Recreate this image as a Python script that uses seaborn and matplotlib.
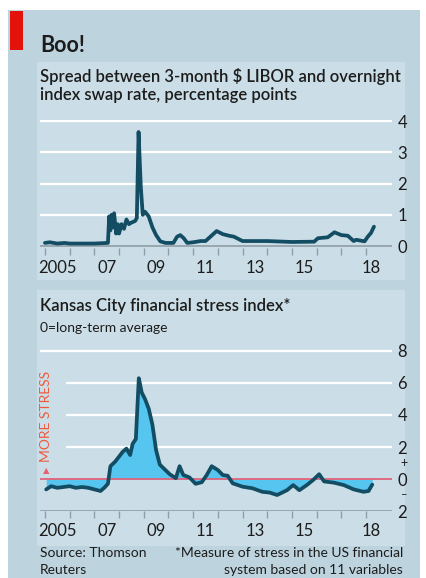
import matplotlib
matplotlib.use("Agg")
import matplotlib.pyplot as plt
from matplotlib.patches import Rectangle
import numpy as np
import pandas as pd
import seaborn as sns

# LIBOR-OIS spread, percentage points
libor_year = [2005.0, 2005.2, 2005.5, 2005.8, 2006.0, 2006.5, 2007.0, 2007.55,
              2007.6, 2007.65, 2007.7, 2007.75, 2007.8, 2007.88, 2007.95, 2008.0,
              2008.1, 2008.2, 2008.3, 2008.4, 2008.5, 2008.65, 2008.72, 2008.79,
              2008.88, 2008.96, 2009.05, 2009.2, 2009.35, 2009.5, 2009.67, 2009.88,
              2010.2, 2010.35, 2010.48, 2010.62, 2010.76, 2011.0, 2011.3, 2011.5,
              2011.7, 2011.95, 2012.2, 2012.45, 2012.65, 2013.0, 2014.0, 2015.0,
              2015.9, 2016.05, 2016.45, 2016.72, 2017.0, 2017.26, 2017.5, 2017.6,
              2017.94, 2018.07, 2018.2, 2018.32]
libor_spread = [0.1, 0.12, 0.08, 0.1, 0.08, 0.08, 0.08, 0.1,
                0.95, 0.5, 1.0, 0.6, 1.05, 0.4, 0.7, 0.4,
                0.7, 0.55, 0.85, 0.7, 0.75, 0.8, 0.9, 3.65,
                1.9, 1.0, 1.1, 0.95, 0.6, 0.35, 0.15, 0.1,
                0.1, 0.3, 0.35, 0.25, 0.1, 0.12, 0.16, 0.16,
                0.3, 0.48, 0.38, 0.33, 0.3, 0.16, 0.16, 0.13,
                0.14, 0.25, 0.28, 0.44, 0.35, 0.33, 0.16, 0.2,
                0.15, 0.3, 0.42, 0.62]

# Kansas City financial stress index
kc_year = [2005.05, 2005.25, 2005.5, 2005.75, 2006.0, 2006.25, 2006.5, 2006.75,
           2007.0, 2007.25, 2007.4, 2007.55, 2007.65, 2007.85, 2008.0, 2008.15,
           2008.3, 2008.45, 2008.55, 2008.68, 2008.8, 2008.92, 2009.05, 2009.2,
           2009.35, 2009.5, 2009.65, 2009.85, 2010.05, 2010.3, 2010.45, 2010.6,
           2010.85, 2011.1, 2011.35, 2011.55, 2011.75, 2012.0, 2012.2, 2012.4,
           2012.6, 2013.0, 2013.4, 2013.8, 2014.1, 2014.4, 2014.8, 2015.05,
           2015.3, 2015.6, 2015.86, 2016.1, 2016.3, 2016.7, 2017.1, 2017.5,
           2017.9, 2018.1, 2018.25]
kc_stress = [-0.65, -0.45, -0.55, -0.5, -0.45, -0.55, -0.5, -0.55,
             -0.65, -0.75, -0.55, -0.3, 0.8, 1.1, 1.4, 1.7,
             1.9, 1.5, 2.2, 2.5, 6.3, 5.4, 5.0, 4.4,
             3.4, 1.8, 0.9, 0.6, 0.3, 0.05, 0.8, 0.25,
             0.1, -0.3, -0.2, 0.25, 0.8, 0.56, 0.25, 0.2,
             -0.27, -0.48, -0.58, -0.8, -0.85, -1.0, -0.7, -0.38,
             -0.7, -0.38, -0.06, 0.3, -0.15, -0.23, -0.38, -0.65,
             -0.8, -0.75, -0.35]

year_ticks = list(range(2005, 2019))
year_label_pos = [2005.5, 2007.5, 2009.5, 2011.5, 2013.5, 2015.5, 2018.2]
year_labels = ["2005", "07", "09", "11", "13", "15", "18"]
top_yticks = [0, 1, 2, 3, 4]
bot_yticks = [-2, 0, 2, 4, 6, 8]

W, H = 427, 578
LINE = "#134d63"
FILL = "#56c5ef"
OUTER = "#bdd4df"
INNER = "#cbdee7"
AXIS = "#8f9ea6"
TEXT = "#1c1c1c"

sns.set_theme(style="white")
plt.rcParams["font.family"] = ["Lato", "DejaVu Sans"]

fig = plt.figure(figsize=(W / 100, H / 100), dpi=100)
fig.patch.set_facecolor("white")


def fx(px):
    return px / W


def fy(py):
    return 1 - py / H


def bg_rect(x0, y0, x1, y1, color, z=-10):
    fig.patches.append(Rectangle((fx(x0), fy(y1)), fx(x1) - fx(x0), fy(y0) - fy(y1),
                                 transform=fig.transFigure, facecolor=color,
                                 edgecolor="none", zorder=z))


# panel backgrounds
bg_rect(8, 10, 420, 578, OUTER)
bg_rect(37, 62, 405, 280, INNER, z=-9)
bg_rect(37, 290, 405, 546, INNER, z=-9)
bg_rect(10, 11, 23, 50, "#e3120b", z=-8)

XMIN, XMAX = 2004.8, 2019.05

# ---- top chart ----
ax1 = fig.add_axes([fx(40), fy(247.6), fx(352), fy(119.5) - fy(247.6)])
ax1.set_xlim(XMIN, XMAX)
ax1.set_ylim(-0.05, 4.05)
for v in top_yticks[1:]:
    ax1.axhline(v, color="white", lw=1.6, zorder=1)
ax1.axhline(0, color=AXIS, lw=1.2, zorder=2)
df1 = pd.DataFrame({"year": libor_year, "spread": libor_spread})
sns.lineplot(data=df1, x="year", y="spread", ax=ax1, color=LINE, lw=2.7, zorder=3,
             solid_joinstyle="round")

# ---- bottom chart ----
ax2 = fig.add_axes([fx(40), fy(511), fx(352), fy(349.4) - fy(511)])
ax2.set_xlim(XMIN, XMAX)
ax2.set_ylim(-2, 8.1)
ax2.axhline(8, color="white", lw=1.6, zorder=1)
for v in [2, 4, 6]:
    ax2.axhline(v, xmin=(67 - 40) / 352, color="white", lw=1.6, zorder=1)
ax2.axhline(-2, color=AXIS, lw=1.2, zorder=2)
kc = np.array(kc_stress)
ax2.fill_between(kc_year, kc, 0, color=FILL, lw=0, zorder=2)
ax2.axhline(0, color="#e0627a", lw=1.3, zorder=3)
df2 = pd.DataFrame({"year": kc_year, "stress": kc_stress})
sns.lineplot(data=df2, x="year", y="stress", ax=ax2, color=LINE, lw=2.7, zorder=4,
             solid_joinstyle="round")
ax2.text(2005.05, 3.9, "MORE STRESS", rotation=90, color="#f05a3c", fontsize=10,
         ha="center", va="center")
ax2.text(2005.05, 0.55, "\u25b2", color="#e8606e", fontsize=6,
         ha="center", va="center")
ax2.text(1.025, 3 / 10.1, "+", transform=ax2.transAxes, fontsize=9,
         ha="left", va="center", color=TEXT)
ax2.text(1.025, 1 / 10.1, "\u2013", transform=ax2.transAxes, fontsize=8,
         ha="left", va="center", color=TEXT)

for ax, ticks in [(ax1, top_yticks), (ax2, bot_yticks)]:
    ax.set_facecolor("none")
    ax.set_zorder(5)
    ax.grid(False)
    for s in ax.spines.values():
        s.set_visible(False)
    ax.set_xlabel("")
    ax.set_ylabel("")
    ax.yaxis.tick_right()
    ax.set_yticks(ticks)
    ax.set_yticklabels([str(abs(t)) for t in ticks], fontsize=12, color=TEXT)
    ax.tick_params(axis="y", length=0, pad=4)
    ax.set_xticks(year_ticks)
    ax.set_xticklabels([])
    ax.tick_params(axis="x", length=5, width=1, color=AXIS, direction="out",
                   bottom=True, pad=0)
    ax.set_xticks(year_label_pos, minor=True)
    ax.set_xticklabels(year_labels, minor=True, fontsize=12, color=TEXT)
    ax.tick_params(axis="x", which="minor", length=0, pad=9)

# ---- texts ----
fig.text(fx(40), fy(52), "Boo!", fontsize=15.5, fontweight="bold", color=TEXT,
         ha="left", va="baseline")
fig.text(fx(40), fy(82), "Spread between 3-month $ LIBOR and overnight",
         fontsize=12, fontweight="semibold", color=TEXT, ha="left", va="baseline")
fig.text(fx(40), fy(100), "index swap rate, percentage points",
         fontsize=12, fontweight="semibold", color=TEXT, ha="left", va="baseline")
fig.text(fx(40), fy(311), "Kansas City financial stress index*",
         fontsize=12, fontweight="semibold", color=TEXT, ha="left", va="baseline")
fig.text(fx(40), fy(332), "0=long-term average", fontsize=10, color=TEXT,
         ha="left", va="baseline")
fig.text(fx(40), fy(557), "Source: Thomson", fontsize=10, color=TEXT,
         ha="left", va="baseline")
fig.text(fx(40), fy(574), "Reuters", fontsize=10, color=TEXT,
         ha="left", va="baseline")
fig.text(fx(403), fy(557), "*Measure of stress in the US financial", fontsize=10,
         color=TEXT, ha="right", va="baseline")
fig.text(fx(403), fy(574), "system based on 11 variables", fontsize=10,
         color=TEXT, ha="right", va="baseline")

fig.savefig("out.png", dpi=100)
